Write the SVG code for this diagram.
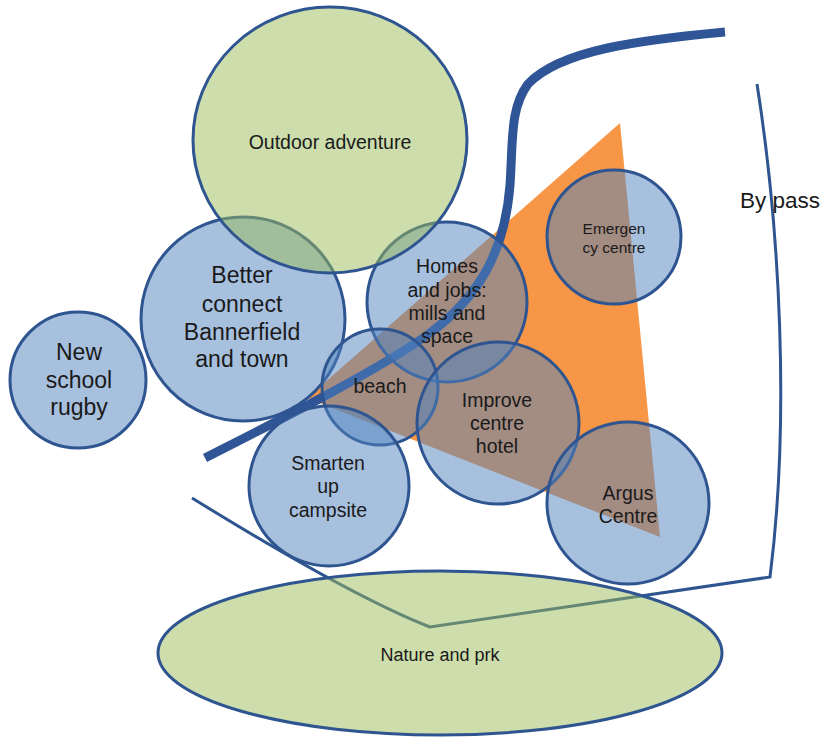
<svg xmlns="http://www.w3.org/2000/svg" width="830" height="737" viewBox="0 0 830 737">
<style>
.b{fill:#4F81BD;fill-opacity:0.5;stroke:#2F5590;stroke-width:3}
.g{fill:#9BBB59;fill-opacity:0.5;stroke:#2F5590;stroke-width:3}
text{font-family:"Liberation Sans",Arial,sans-serif;fill:#1a1a1a;text-anchor:middle;font-size:19.5px}
.big{font-size:23px}
.road{fill:none;stroke:#2F5597;stroke-width:9}
.thin{fill:none;stroke:#2F5590;stroke-width:3}
</style>
<rect width="830" height="737" fill="#ffffff"/>
<polygon id="zone" points="620,123 660,537 307,398" fill="#F79646"/>
<g id="connectors">
<path class="road" d="M205,458 C260,430 380,370 430,333 C480,296 505,250 510,185 C513,140 510,108 528,84 C560,50 640,40 725,32"/>
<path class="thin" d="M757,84 C780,230 790,420 770,577 L430,627 C360,600 260,540 192,498"/>
</g>
<g id="byPass"><text x="740" y="208" style="font-size:22.5px;text-anchor:start">By pass</text></g>
<g id="newSchool"><circle class="b" cx="78" cy="380" r="68"/>
<text class="big" x="79" y="360">New</text><text class="big" x="79" y="388">school</text><text class="big" x="79" y="415">rugby</text></g>
<g id="betterConnect"><circle class="b" cx="243" cy="319" r="102"/>
<text class="big" x="242" y="283">Better</text><text class="big" x="242" y="312">connect</text><text class="big" x="242" y="340">Bannerfield</text><text class="big" x="242" y="367">and town</text></g>
<g id="homes"><circle class="b" cx="447" cy="302" r="80"/>
<text x="447" y="273">Homes</text><text x="447" y="297">and jobs:</text><text x="447" y="320">mills and</text><text x="447" y="343">space</text></g>
<g id="emergency"><circle class="b" cx="614" cy="237" r="67"/>
<text style="font-size:15.5px" x="614" y="234">Emergen</text><text style="font-size:15.5px" x="614" y="253">cy centre</text></g>
<g id="beach"><circle class="b" cx="380" cy="387" r="58"/>
<text x="380" y="393">beach</text></g>
<g id="improve"><circle class="b" cx="498" cy="423" r="81"/>
<text x="497" y="407">Improve</text><text x="497" y="430">centre</text><text x="497" y="453">hotel</text></g>
<g id="smarten"><circle class="b" cx="329" cy="486" r="80"/>
<text x="328" y="470">Smarten</text><text x="328" y="493">up</text><text x="328" y="517">campsite</text></g>
<g id="argus"><circle class="b" cx="628" cy="503" r="81"/>
<text x="628" y="500">Argus</text><text x="628" y="523">Centre</text></g>
<g id="outdoor"><ellipse class="g" cx="330" cy="140" rx="137" ry="133"/>
<text x="330" y="149">Outdoor adventure</text></g>
<g id="nature"><ellipse class="g" cx="440" cy="653" rx="282" ry="82"/>
<text style="font-size:18px" x="440" y="661">Nature and prk</text></g>
</svg>
